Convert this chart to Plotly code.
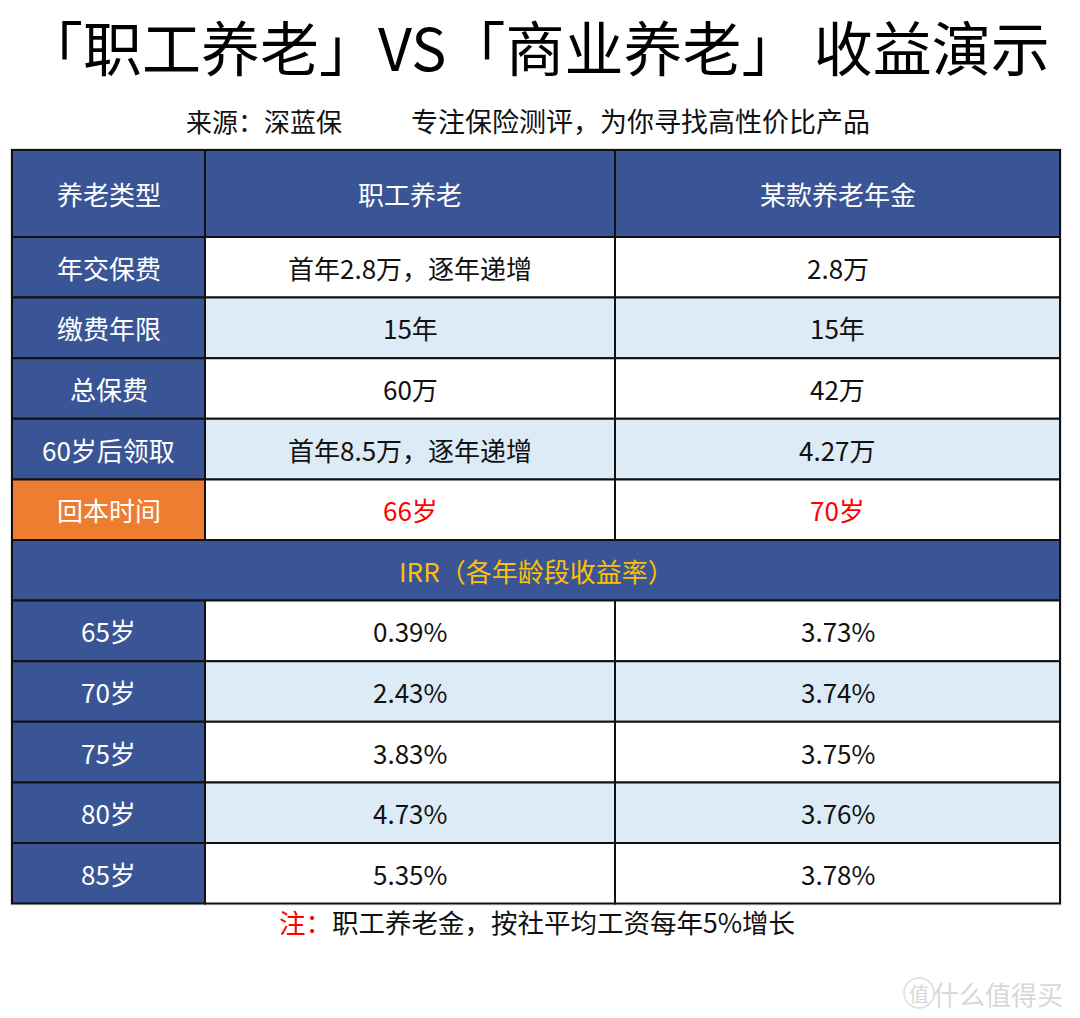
import plotly.graph_objects as go

# ---------------- data ----------------
title_text = "「职工养老」VS「商业养老」 收益演示"
source_text = "来源：深蓝保"
slogan_text = "专注保险测评，为你寻找高性价比产品"
col_headers = ["养老类型", "职工养老", "某款养老年金"]
row_labels = ["年交保费", "缴费年限", "总保费", "60岁后领取", "回本时间"]
employee_values = ["首年2.8万，逐年递增", "15年", "60万", "首年8.5万，逐年递增", "66岁"]
commercial_values = ["2.8万", "15年", "42万", "4.27万", "70岁"]
irr_title = "IRR（各年龄段收益率）"
irr_ages = ["65岁", "70岁", "75岁", "80岁", "85岁"]
irr_employee = [0.39, 2.43, 3.83, 4.73, 5.35]
irr_commercial = [3.73, 3.74, 3.75, 3.76, 3.78]
note_prefix = "注："
note_text = "职工养老金，按社平均工资每年5%增长"
watermark = "什么值得买"

# ---------------- layout constants ----------------
W, H = 1080, 1018
FONT = "Noto Sans CJK SC"
BLUE = "#3A5595"
LIGHT = "#DDEBF7"
ORANGE = "#ED7D31"
GOLD = "#FFC000"
RED = "#FF0000"
col_edges = [12, 205, 615, 1060]
header_h = 87
row_h = 60.6
table_top = 150
CELL_SIZE = 26

n_rows = 1 + len(row_labels) + 1 + len(irr_ages)
row_edges = [table_top, table_top + header_h]
for i in range(n_rows - 1):
    row_edges.append(row_edges[-1] + row_h)

shapes = []
annotations = []


def cell(c0, c1, r, fill, text, color, size=CELL_SIZE):
    x0, x1 = col_edges[c0], col_edges[c1]
    y0, y1 = row_edges[r], row_edges[r + 1]
    shapes.append(dict(type="rect", xref="x", yref="y", x0=x0, x1=x1, y0=y0, y1=y1,
                       fillcolor=fill, line=dict(color="#111111", width=2), layer="below"))
    annotations.append(dict(x=(x0 + x1) / 2, y=(y0 + y1) / 2, xref="x", yref="y",
                            text=text, showarrow=False,
                            font=dict(family=FONT, size=size, color=color),
                            xanchor="center", yanchor="middle"))


shapes.append(dict(type="rect", xref="x", yref="y", x0=col_edges[0] - 1.5, x1=col_edges[-1] + 1.5,
                   y0=row_edges[0] - 1.5, y1=row_edges[-1] + 1.5, fillcolor="rgba(0,0,0,0)",
                   line=dict(color="#E4E4E4", width=1), layer="below"))

for c, h in enumerate(col_headers):
    cell(c, c + 1, 0, BLUE, h, "white")

for i, lab in enumerate(row_labels):
    r = 1 + i
    fill = "white" if i % 2 == 0 else LIGHT
    is_payback = (i == len(row_labels) - 1)
    cell(0, 1, r, ORANGE if is_payback else BLUE, lab, "white")
    vcol = RED if is_payback else "#111111"
    cell(1, 2, r, fill, employee_values[i], vcol)
    cell(2, 3, r, fill, commercial_values[i], vcol)

r_irr = 1 + len(row_labels)
cell(0, 3, r_irr, BLUE, irr_title, GOLD)

for i, age in enumerate(irr_ages):
    r = r_irr + 1 + i
    fill = "white" if i % 2 == 0 else LIGHT
    cell(0, 1, r, BLUE, age, "white")
    cell(1, 2, r, fill, f"{irr_employee[i]:.2f}%", "#111111")
    cell(2, 3, r, fill, f"{irr_commercial[i]:.2f}%", "#111111")

annotations.append(dict(x=537, y=45, xref="x", yref="y", text=title_text, showarrow=False,
                        font=dict(family=FONT, size=59, color="#000000"),
                        xanchor="center", yanchor="middle"))
annotations.append(dict(x=264, y=120, xref="x", yref="y", text=source_text, showarrow=False,
                        font=dict(family=FONT, size=26, color="#111111"),
                        xanchor="center", yanchor="middle"))
annotations.append(dict(x=640, y=120, xref="x", yref="y", text=slogan_text, showarrow=False,
                        font=dict(family=FONT, size=27, color="#111111"),
                        xanchor="center", yanchor="middle"))

annotations.append(dict(x=537, y=921, xref="x", yref="y",
                        text=f"<span style='color:{RED}'>{note_prefix}</span>{note_text}",
                        showarrow=False, font=dict(family=FONT, size=26.5, color="#111111"),
                        xanchor="center", yanchor="middle"))

shapes.append(dict(type="circle", xref="x", yref="y", x0=904, x1=934, y0=978, y1=1008,
                   line=dict(color="#DDDDDD", width=1.5), fillcolor="rgba(0,0,0,0)"))
annotations.append(dict(x=919, y=993, xref="x", yref="y", text="值", showarrow=False,
                        font=dict(family=FONT, size=20, color="#D8D8D8"),
                        xanchor="center", yanchor="middle"))
annotations.append(dict(x=998, y=993, xref="x", yref="y", text=watermark, showarrow=False,
                        font=dict(family=FONT, size=26, color="#D8D8D8"),
                        xanchor="center", yanchor="middle"))

fig = go.Figure()
fig.update_layout(
    width=W, height=H,
    margin=dict(l=0, r=0, t=0, b=0),
    paper_bgcolor="white", plot_bgcolor="white",
    xaxis=dict(range=[0, W], visible=False, fixedrange=True),
    yaxis=dict(range=[H, 0], visible=False, fixedrange=True),
    shapes=shapes, annotations=annotations, showlegend=False,
)
fig.write_html("out.html", config={"displayModeBar": False},
               post_script="document.body.style.margin='0';document.body.style.overflow='hidden';")
